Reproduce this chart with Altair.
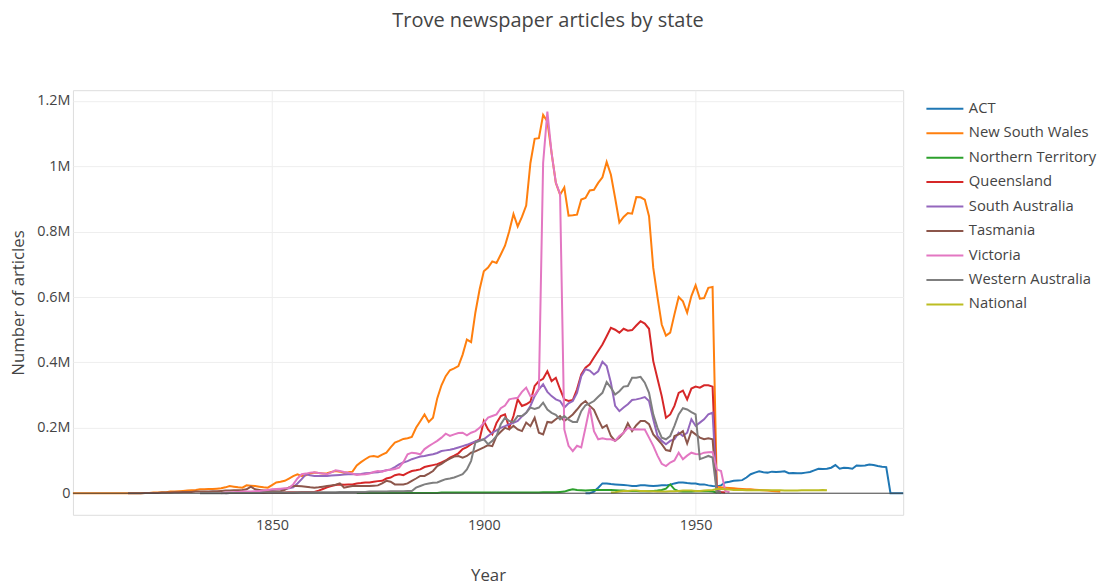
import altair as alt
import pandas as pd

# values in thousands of articles, one per year from the start year
series_names = ["ACT", "New South Wales", "Northern Territory", "Queensland",
                "South Australia", "Tasmania", "Victoria", "Western Australia", "National"]
series_colors = ["#1f77b4", "#ff7f0e", "#2ca02c", "#d62728", "#9467bd",
                 "#8c564b", "#e377c2", "#7f7f7f", "#bcbd22"]

act_start = 1924
act = [0, 0, 5, 17, 30, 30,
       28, 27, 26, 25, 24, 22, 22, 24, 24, 23,
       22, 23, 24, 24, 26, 30, 33, 33, 31, 30,
       30, 27, 27, 24, 22, 21, 24, 33, 35, 38,
       39, 40, 48, 58, 63, 67, 64, 63, 66, 65,
       66, 67, 61, 62, 61, 61, 63, 65, 70, 75,
       74, 75, 78, 86, 75, 78, 77, 75, 85, 84,
       85, 88, 86, 83, 81, 80, 0, 0, 0, 0]

nsw_start = 1803
nsw = [0, 0, 0, 0, 0, 0, 0,
       0, 0, 0, 0, 0, 0, 0, 0, 0, 0,
       1, 1, 2, 2, 3, 3, 5, 5, 6, 7,
       8, 9, 10, 12, 12, 13, 13, 14, 15, 18,
       22, 20, 18, 17, 24, 23, 22, 20, 18, 17,
       25, 33, 35, 38, 45, 52, 58, 53, 55, 60,
       63, 62, 60, 61, 65, 68, 66, 63, 64, 66,
       85, 95, 104, 112, 114, 111, 118, 124, 140, 155,
       160, 166, 168, 172, 200, 220, 241, 218, 231, 290,
       330, 358, 376, 382, 389, 424, 470, 462, 552, 623,
       679, 690, 709, 704, 730, 757, 801, 854, 816, 845,
       880, 1010, 1084, 1086, 1157, 1137, 1040, 949, 913, 935,
       849, 850, 852, 898, 903, 926, 928, 949, 966, 1013,
       974, 903, 828, 845, 857, 855, 906, 905, 898, 847,
       689, 600, 516, 482, 491, 547, 600, 587, 552, 603,
       636, 595, 597, 628, 631, 20, 18, 17, 16, 15,
       14, 13, 12, 12, 11, 10, 9, 8, 7, 6,
       5]

nt_start = 1870
nt = [1, 1, 1, 1, 1, 1, 1, 1, 1, 1,
      1, 1, 1, 1, 1, 1, 1, 1, 1, 1,
      2, 2, 2, 2, 2, 2, 2, 2, 2, 2,
      2, 2, 2, 2, 2, 2, 2, 2, 2, 2,
      2, 2, 2, 2, 3, 3, 3, 3, 4, 5,
      9, 12, 10, 9, 8, 9, 10, 10, 10, 10,
      10, 9, 8, 8, 7, 7, 7, 6, 6, 6,
      7, 8, 10, 14, 27, 12, 6, 5, 5, 5,
      6, 6, 7, 6, 5, 2]

qld_start = 1846
qld = [1, 1, 1, 2,
       2, 2, 2, 2, 3, 3, 3, 4, 4, 4,
       4, 8, 13, 18, 22, 25, 27, 26, 27, 27,
       30, 31, 33, 33, 35, 37, 38, 45, 48, 55,
       58, 55, 62, 68, 70, 73, 80, 83, 86, 89,
       94, 100, 109, 115, 122, 135, 141, 150, 158, 165,
       221, 195, 180, 215, 236, 241, 200, 236, 287, 267,
       272, 280, 328, 343, 350, 373, 343, 353, 318, 287,
       282, 285, 318, 363, 384, 394, 415, 435, 455, 480,
       506, 500, 491, 503, 497, 499, 513, 526, 519, 503,
       404, 350, 297, 231, 241, 267, 307, 314, 287, 320,
       326, 323, 330, 330, 326, 8, 4, 2]

sa_start = 1839
sa = [0,
      1, 1, 2, 2, 3, 3, 4, 5, 7, 8,
      10, 11, 12, 13, 15, 18, 30, 43, 58, 55,
      53, 53, 53, 53, 54, 55, 56, 57, 58, 58,
      58, 59, 61, 62, 63, 64, 67, 70, 73, 80,
      88, 94, 98, 104, 108, 112, 114, 117, 119, 123,
      129, 131, 133, 136, 140, 144, 148, 153, 158, 162,
      165, 175, 185, 192, 200, 205, 211, 215, 221, 235,
      246, 267, 297, 318, 333, 310, 297, 287, 282, 262,
      275, 282, 307, 358, 379, 375, 363, 373, 402, 389,
      338, 267, 251, 262, 272, 285, 287, 290, 294, 282,
      226, 175, 160, 150, 160, 165, 185, 175, 185, 226,
      206, 216, 226, 241, 246, 8, 4]

tas_start = 1816
tas = [0, 0, 0, 0,
       1, 1, 1, 1, 2, 2, 2, 3, 3, 4,
       4, 4, 5, 5, 5, 5, 6, 6, 7, 8,
       8, 9, 9, 10, 12, 20, 12, 10, 8, 6,
       5, 5, 6, 10, 18, 22, 22, 21, 20, 18,
       17, 18, 20, 22, 24, 26, 30, 17, 20, 22,
       22, 22, 22, 22, 23, 24, 30, 38, 35, 27,
       27, 27, 30, 38, 45, 53, 53, 60, 68, 83,
       90, 99, 106, 112, 114, 109, 114, 124, 128, 134,
       140, 147, 144, 175, 188, 200, 195, 206, 195, 190,
       216, 205, 231, 185, 180, 218, 216, 226, 236, 221,
       230, 241, 256, 272, 282, 267, 255, 226, 200, 208,
       175, 160, 170, 185, 214, 190, 208, 221, 221, 211,
       180, 165, 150, 132, 129, 175, 180, 190, 152, 190,
       180, 170, 165, 168, 165, 5, 3]

vic_start = 1838
vic = [0, 2,
       2, 3, 4, 5, 5, 5, 6, 7, 8, 10,
       12, 13, 14, 15, 16, 27, 45, 58, 60, 63,
       64, 62, 60, 58, 64, 70, 68, 65, 63, 60,
       56, 57, 58, 60, 65, 68, 66, 70, 72, 74,
       78, 95, 119, 124, 122, 119, 135, 144, 152, 160,
       170, 182, 175, 180, 184, 185, 177, 185, 190, 200,
       215, 231, 236, 241, 260, 268, 287, 290, 292, 310,
       323, 297, 300, 320, 1010, 1167, 1040, 950, 915, 195,
       145, 129, 145, 140, 200, 262, 190, 165, 168, 165,
       165, 160, 175, 185, 200, 195, 196, 195, 195, 170,
       145, 115, 90, 83, 94, 100, 124, 104, 115, 124,
       120, 119, 124, 125, 126, 73, 68, 7, 3]

wa_start = 1833
wa = [0, 0, 0, 0, 0, 0, 0,
      1, 1, 1, 1, 1, 1, 1, 1, 2, 2,
      2, 2, 2, 2, 2, 2, 3, 3, 3, 3,
      3, 3, 3, 3, 3, 3, 4, 4, 4, 4,
      4, 4, 4, 5, 5, 5, 5, 5, 6, 6,
      6, 6, 7, 7, 17, 22, 27, 30, 32, 33,
      38, 43, 45, 48, 53, 58, 73, 99, 155, 160,
      165, 150, 160, 175, 211, 231, 221, 218, 236, 236,
      246, 262, 258, 262, 277, 256, 246, 240, 226, 236,
      225, 218, 218, 251, 269, 275, 282, 295, 307, 340,
      323, 302, 312, 326, 328, 353, 353, 356, 338, 307,
      241, 200, 170, 165, 175, 206, 241, 260, 256, 248,
      241, 104, 109, 114, 109, 3, 2]

nat_start = 1930
nat = [2, 3, 5, 7, 7, 8, 8, 7, 7, 6,
       6, 5, 5, 5, 6, 6, 7, 8, 8, 8,
       7, 7, 8, 9, 10, 13, 13, 12, 11, 10,
       10, 10, 9, 9, 9, 9, 9, 9, 9, 9,
       9, 8, 8, 8, 8, 9, 9, 9, 9, 9,
       10, 9]

y_ticks = [0, 200000, 400000, 600000, 800000, 1000000, 1200000]
x_ticks = [1850, 1900, 1950]

series_data = [(act_start, act), (nsw_start, nsw), (nt_start, nt), (qld_start, qld),
               (sa_start, sa), (tas_start, tas), (vic_start, vic), (wa_start, wa),
               (nat_start, nat)]

rows = []
for order, (name, (start, vals)) in enumerate(zip(series_names, series_data)):
    for i, v in enumerate(vals):
        rows.append({"state": name, "year": start + i, "articles": v * 1000, "o": order})
df = pd.DataFrame(rows)

FONT = "Open Sans"
TXT = "#444"

x_enc = alt.X("year:Q",
              scale=alt.Scale(domain=[1803, 1999], nice=False, zero=False),
              axis=alt.Axis(values=x_ticks, format="d", title="Year", grid=True,
                            gridColor="#eeeeee", domain=False, ticks=False,
                            labelPadding=4, labelFontSize=14.4, labelColor=TXT,
                            titleFontSize=16.8, titleColor=TXT, titleFontWeight="normal",
                            titlePadding=35, labelFont=FONT, titleFont=FONT))
y_enc = alt.Y("articles:Q",
              scale=alt.Scale(domain=[-66000, 1232600], nice=False, zero=False),
              axis=alt.Axis(values=y_ticks, title="Number of articles", grid=True,
                            gridColor="#eeeeee", domain=False, ticks=False,
                            labelExpr="datum.value == 0 ? '0' : format(datum.value/1000000, '~g') + 'M'",
                            labelPadding=3, labelFontSize=14.4, labelColor=TXT,
                            titleFontSize=16.8, titleColor=TXT, titleFontWeight="normal",
                            titlePadding=9.5, labelFont=FONT, titleFont=FONT))

zero = alt.Chart(pd.DataFrame({"z": [0]})).mark_rule(color="#444444", strokeWidth=1).encode(
    y=alt.Y("z:Q", scale=alt.Scale(domain=[-66000, 1232600], nice=False, zero=False))
)

lines = alt.Chart(df).mark_line(strokeWidth=2, interpolate="linear").encode(
    x=x_enc,
    y=y_enc,
    color=alt.Color("state:N",
                    scale=alt.Scale(domain=series_names, range=series_colors),
                    legend=alt.Legend(title=None, orient="none", legendX=854, legendY=8,
                                      symbolType="M-2,0H2", symbolSize=342.25,
                                      symbolOffset=8.25,
                                      symbolStrokeWidth=2, labelOffset=13.5,
                                      labelFontSize=14.8, labelColor=TXT, labelFont=FONT,
                                      rowPadding=6.5, labelLimit=300)),
    order=alt.Order("o:Q"),
    detail="state:N",
)

chart = alt.layer(lines, zero).properties(
    width=831, height=425,
    autosize=alt.AutoSizeParams(type="none"),
    padding={"left": 65, "top": 82, "right": 196, "bottom": 69},
    title=alt.TitleParams("Trove newspaper articles by state", fontSize=20, font=FONT,
                          color=TXT, fontWeight="normal", anchor="middle", dx=60,
                          baseline="alphabetic", offset=43),
).configure_view(stroke=None).configure(font=FONT)

chart.save("out.html", embed_options={"renderer": "svg", "actions": False})
